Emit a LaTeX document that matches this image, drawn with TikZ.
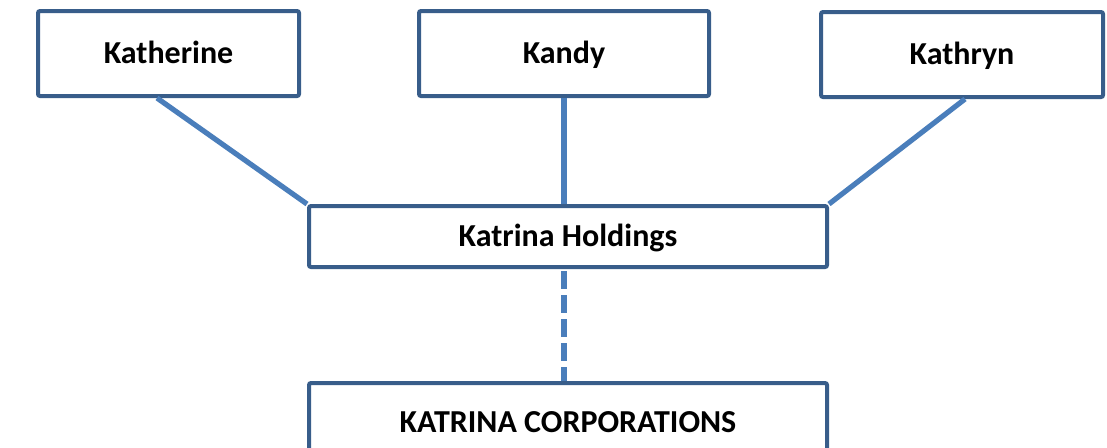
\documentclass[tikz,border=0pt]{standalone}
\usepackage{fontspec}
\setmainfont{Carlito}
\usepackage{tikz}
\usetikzlibrary{positioning, calc}
\definecolor{boxblue}{RGB}{56,93,138}
\definecolor{lineblue}{RGB}{74,126,187}
\tikzset{
  box/.style={rectangle, draw=boxblue, fill=white, line width=2pt, rounded corners=1pt,
    inner sep=0pt, minimum height=42.5pt, font=\fontsize{16}{19}\selectfont\bfseries,
    text height=10pt, text depth=0pt, text centered, align=center},
  wide/.style={box, minimum width=259pt},
  link/.style={lineblue, line width=2.6pt},
  dlink/.style={link, dash pattern=on 9pt off 3pt}
}
\begin{document}
\begin{tikzpicture}[x=0.5pt, y=-0.5pt]
  \useasboundingbox (0,0) rectangle (1107,447);
  \node[box, minimum width=130.5pt] (katherine) at (168.5,53.5) {Katherine};
  \node[box, minimum width=145pt] (kandy) at (564,53.5) {Kandy};
  \node[box, minimum width=141pt] (kathryn) at (962,54.5) {Kathryn};
  \node[wide, minimum height=30.5pt] (holdings) at (568,236.5) {Katrina Holdings};
  \node[wide, minimum height=39pt] (corp) at (568,422) {KATRINA CORPORATIONS};
  \draw[link] ([xshift=-5.75pt]katherine.south) -- (holdings.north west);
  \draw[link] (kandy.south) -- (kandy.south |- holdings.north);
  \draw[link] ([xshift=1.5pt]kathryn.south) -- (holdings.north east);
  \draw[dlink] ([yshift=-1pt]holdings.south -| kandy.south) -- (corp.north -| kandy.south);
\end{tikzpicture}
\end{document}
